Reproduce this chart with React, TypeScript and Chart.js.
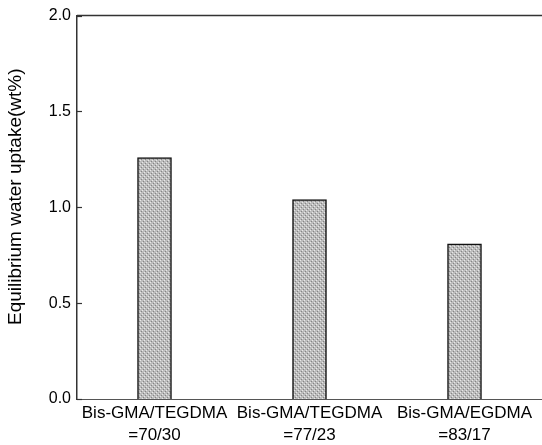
import React, { useEffect, useRef } from "react";
import { Chart, registerables } from "chart.js";

Chart.register(...registerables);

const categories: string[][] = [
  ["Bis-GMA/TEGDMA", "=70/30"],
  ["Bis-GMA/TEGDMA", "=77/23"],
  ["Bis-GMA/EGDMA", "=83/17"],
];
const uptakeValues: number[] = [1.26, 1.04, 0.81];
const yTickValues: number[] = [0, 0.5, 1.0, 1.5, 2.0];
const yTitle = "Equilibrium water uptake(wt%)";

function makePattern(): CanvasPattern | string {
  const c = document.createElement("canvas");
  c.width = 4;
  c.height = 4;
  const g = c.getContext("2d");
  if (!g) return "#c0c0c0";
  g.fillStyle = "#bcbcbc";
  g.fillRect(0, 0, 4, 4);
  g.fillStyle = "#e8e8e8";
  g.fillRect(0, 0, 1, 1);
  g.fillRect(2, 2, 1, 1);
  g.fillStyle = "#858585";
  g.fillRect(1, 3, 1, 1);
  g.fillRect(3, 1, 1, 1);
  const p = g.createPattern(c, "repeat");
  return p || "#c0c0c0";
}

const framePlugin = {
  id: "frameAndTicks",
  afterDraw(chart: any) {
    const { ctx, chartArea, scales } = chart;
    ctx.save();
    ctx.strokeStyle = "#333";
    ctx.lineWidth = 1.5;
    ctx.beginPath();
    ctx.moveTo(chartArea.left, chartArea.top);
    ctx.lineTo(chartArea.right, chartArea.top);
    ctx.stroke();
    ctx.lineWidth = 1.2;
    for (const v of yTickValues) {
      const y = Math.round(scales.y.getPixelForValue(v)) + 0.5;
      ctx.beginPath();
      ctx.moveTo(chartArea.left, y);
      ctx.lineTo(chartArea.left + 5, y);
      ctx.stroke();
    }
    ctx.restore();
  },
};

export default function App() {
  const ref = useRef<HTMLCanvasElement | null>(null);
  useEffect(() => {
    document.body.style.margin = "0";
    document.documentElement.style.overflow = "hidden";
    if (!ref.current) return;
    const font = "'Liberation Sans', Arial, sans-serif";
    const chart = new Chart(ref.current, {
      type: "bar",
      data: {
        labels: categories,
        datasets: [
          {
            data: uptakeValues,
            backgroundColor: makePattern() as any,
            borderColor: "#111",
            borderWidth: 1.5,
            borderSkipped: "bottom",
            barThickness: 34,
          },
        ],
      },
      options: {
        animation: false,
        responsive: false,
        maintainAspectRatio: false,
        layout: { padding: { top: 13, right: 0, bottom: 0, left: 0 } },
        plugins: {
          legend: { display: false },
          tooltip: { enabled: false },
        },
        scales: {
          x: {
            grid: { display: false, drawTicks: false },
            border: { display: true, color: "#555", width: 1 },
            ticks: {
              color: "#000",
              padding: 3,
              maxRotation: 0,
              autoSkip: false,
              font: { family: font, size: 17, lineHeight: 1.3 },
            },
            afterFit(scale: any) {
              scale.height = 46;
            },
          },
          y: {
            min: 0,
            max: 2,
            grid: { display: false, drawTicks: false },
            border: { display: true, color: "#333", width: 1.5 },
            ticks: {
              stepSize: 0.5,
              color: "#000",
              padding: 6,
              font: { family: font, size: 16 },
              callback: (v: any) => Number(v).toFixed(1),
            },
            title: {
              display: true,
              text: "    " + yTitle,
              color: "#000",
              padding: { top: 4, bottom: 0 },
              font: { family: font, size: 19 },
            },
            afterFit(scale: any) {
              scale.width = 77;
            },
          },
        },
      },
      plugins: [framePlugin],
    });
    return () => chart.destroy();
  }, []);
  return (
    <div style={{ width: 542, height: 445 }}>
      <canvas ref={ref} width={542} height={445} style={{ display: "block" }} />
    </div>
  );
}
